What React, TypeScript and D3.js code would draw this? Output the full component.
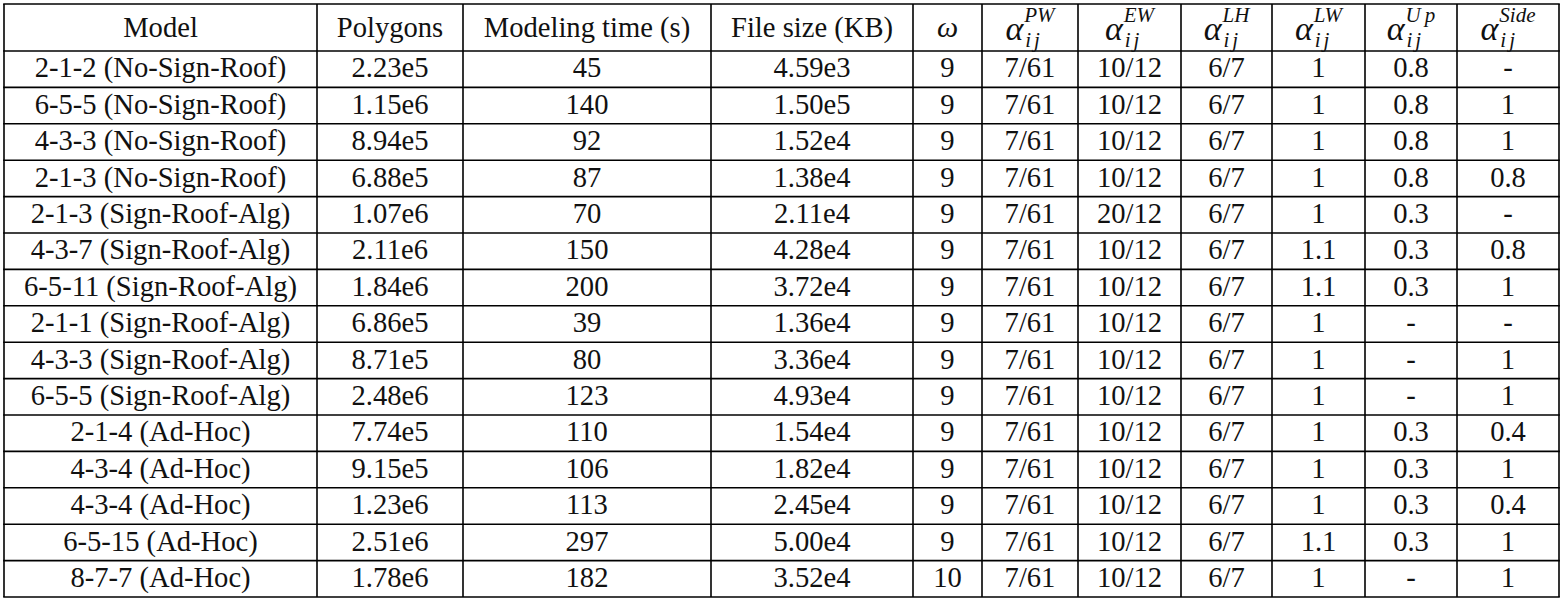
import React from "react";
import * as d3 from "d3";

// ---------- data ----------
const models = [
  "2-1-2 (No-Sign-Roof)",
  "6-5-5 (No-Sign-Roof)",
  "4-3-3 (No-Sign-Roof)",
  "2-1-3 (No-Sign-Roof)",
  "2-1-3 (Sign-Roof-Alg)",
  "4-3-7 (Sign-Roof-Alg)",
  "6-5-11 (Sign-Roof-Alg)",
  "2-1-1 (Sign-Roof-Alg)",
  "4-3-3 (Sign-Roof-Alg)",
  "6-5-5 (Sign-Roof-Alg)",
  "2-1-4 (Ad-Hoc)",
  "4-3-4 (Ad-Hoc)",
  "4-3-4 (Ad-Hoc)",
  "6-5-15 (Ad-Hoc)",
  "8-7-7 (Ad-Hoc)",
];
const polygons = ["2.23e5", "1.15e6", "8.94e5", "6.88e5", "1.07e6", "2.11e6", "1.84e6", "6.86e5", "8.71e5", "2.48e6", "7.74e5", "9.15e5", "1.23e6", "2.51e6", "1.78e6"];
const modelingTime = [45, 140, 92, 87, 70, 150, 200, 39, 80, 123, 110, 106, 113, 297, 182];
const fileSize = ["4.59e3", "1.50e5", "1.52e4", "1.38e4", "2.11e4", "4.28e4", "3.72e4", "1.36e4", "3.36e4", "4.93e4", "1.54e4", "1.82e4", "2.45e4", "5.00e4", "3.52e4"];
const omega = [9, 9, 9, 9, 9, 9, 9, 9, 9, 9, 9, 9, 9, 9, 10];
const alphaPW = ["7/61", "7/61", "7/61", "7/61", "7/61", "7/61", "7/61", "7/61", "7/61", "7/61", "7/61", "7/61", "7/61", "7/61", "7/61"];
const alphaEW = ["10/12", "10/12", "10/12", "10/12", "20/12", "10/12", "10/12", "10/12", "10/12", "10/12", "10/12", "10/12", "10/12", "10/12", "10/12"];
const alphaLH = ["6/7", "6/7", "6/7", "6/7", "6/7", "6/7", "6/7", "6/7", "6/7", "6/7", "6/7", "6/7", "6/7", "6/7", "6/7"];
const alphaLW = ["1", "1", "1", "1", "1", "1.1", "1.1", "1", "1", "1", "1", "1", "1", "1.1", "1"];
const alphaUp = ["0.8", "0.8", "0.8", "0.8", "0.3", "0.3", "0.3", "-", "-", "-", "0.3", "0.3", "0.3", "0.3", "-"];
const alphaSide = ["-", "1", "1", "0.8", "-", "0.8", "1", "-", "1", "1", "0.4", "1", "0.4", "1", "1"];

const plainHeaders = ["Model", "Polygons", "Modeling time (s)", "File size (KB)"];
const omegaHeader = "ω";
const alphaSup = ["PW", "EW", "LH", "LW", "U\u2009p", "Side"];
const alphaSub = "ij";

// ---------- layout ----------
const W = 1564;
const H = 603;
const EDGES = [4, 317, 463, 711, 913, 982, 1078, 1181, 1272, 1365, 1457, 1559];
const TOP = 4;
const HEAD_BOTTOM = 51;
const BOTTOM = 597;
const FONT = "'Liberation Serif', 'Times New Roman', Times, serif";
const BODY_SIZE = 28.6;
const ALPHA_SIZE = 34;
const SCRIPT_SIZE = 21;
const STROKE = 1.6;

let ctx: CanvasRenderingContext2D | null = null;
function measure(text: string, size: number, italic: boolean): number {
  if (!ctx) ctx = document.createElement("canvas").getContext("2d");
  if (!ctx) return text.length * size * 0.5;
  ctx.font = `${italic ? "italic " : ""}${size}px ${FONT}`;
  return ctx.measureText(text).width;
}

export default function App() {
  const nRows = models.length;
  const columnsData: (string | number)[][] = [
    models, polygons, modelingTime, fileSize, omega,
    alphaPW, alphaEW, alphaLH, alphaLW, alphaUp, alphaSide,
  ];
  const colIdx = d3.range(columnsData.length);
  const xLeft = d3.scaleOrdinal<number, number>().domain(colIdx).range(EDGES.slice(0, -1));
  const xRight = d3.scaleOrdinal<number, number>().domain(colIdx).range(EDGES.slice(1));
  const cx = (c: number) => (xLeft(c) + xRight(c)) / 2;
  const y = d3.scaleBand<number>().domain(d3.range(nRows)).range([HEAD_BOTTOM, BOTTOM]);
  const rowH = y.bandwidth();

  const hLines = [TOP, ...d3.range(nRows).map((i) => (y(i) as number)), BOTTOM];

  return (
    <div style={{ position: "fixed", left: 0, top: 0 }}>
      <svg width={W} height={H} style={{ display: "block", background: "#fff" }}>
        <rect x={0} y={0} width={W} height={H} fill="#fff" />
        {/* grid lines */}
        {hLines.map((yy, i) => (
          <line key={"h" + i} x1={EDGES[0] - STROKE / 2} x2={EDGES[EDGES.length - 1] + STROKE / 2} y1={yy} y2={yy} stroke="#000" strokeWidth={STROKE} />
        ))}
        {EDGES.map((xx, i) => (
          <line key={"v" + i} x1={xx} x2={xx} y1={TOP} y2={BOTTOM} stroke="#000" strokeWidth={STROKE} />
        ))}

        {/* headers */}
        <g fontFamily={FONT} fill="#111">
          {plainHeaders.map((h, c) => (
            <text key={"ph" + c} x={cx(c)} y={37} fontSize={BODY_SIZE} textAnchor="middle">{h}</text>
          ))}
          <text x={cx(4)} y={37} fontSize={30} fontStyle="italic" textAnchor="middle">{omegaHeader}</text>
          {alphaSup.map((sup, k) => {
            const c = 5 + k;
            const aW = measure("α", ALPHA_SIZE, true);
            const supW = measure(sup, SCRIPT_SIZE, true);
            const subW = measure(alphaSub, SCRIPT_SIZE, true) + 3;
            const total = aW + 1 + Math.max(supW, subW);
            const x0 = cx(c) - total / 2;
            const xs = x0 + aW + 1;
            return (
              <g key={"ah" + k}>
                <text x={x0} y={40} fontSize={ALPHA_SIZE} fontStyle="italic">α</text>
                <text x={xs} y={22} fontSize={SCRIPT_SIZE} fontStyle="italic">{sup}</text>
                <text x={xs + 1} y={47} fontSize={SCRIPT_SIZE} fontStyle="italic" letterSpacing={3}>{alphaSub}</text>
              </g>
            );
          })}
        </g>

        {/* body */}
        <g fontFamily={FONT} fontSize={BODY_SIZE} fill="#111" textAnchor="middle">
          {d3.range(nRows).map((r) =>
            colIdx.map((c) => (
              <text key={r + "-" + c} x={cx(c)} y={(y(r) as number) + rowH * 0.725}>
                {String(columnsData[c][r])}
              </text>
            ))
          )}
        </g>
      </svg>
    </div>
  );
}
